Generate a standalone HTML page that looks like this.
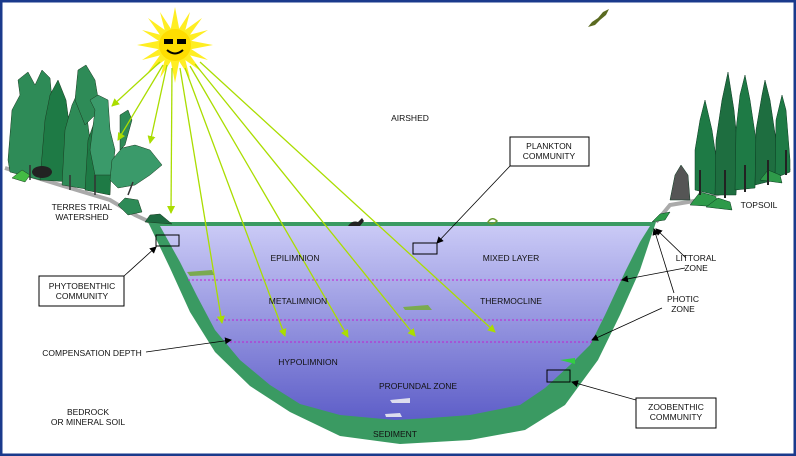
<!DOCTYPE html>
<html><head><meta charset="utf-8"><style>
html,body{margin:0;padding:0;background:#fff}
svg{display:block}
text{font-family:"Liberation Sans",sans-serif;font-size:8.5px;fill:#111}
</style></head><body>
<svg width="796" height="456" viewBox="0 0 796 456" xmlns="http://www.w3.org/2000/svg">
<defs>
<linearGradient id="w" x1="0" y1="0" x2="0" y2="1">
<stop offset="0" stop-color="#cacaf6"/><stop offset="1" stop-color="#5e5ec8"/></linearGradient>
<marker id="ga" markerWidth="8" markerHeight="8" refX="7" refY="4" orient="auto" markerUnits="userSpaceOnUse"><path d="M0,0 L8,4 L0,8 Z" fill="#aadd00"/></marker>
<marker id="ka" markerWidth="7" markerHeight="7" refX="6" refY="3.5" orient="auto" markerUnits="userSpaceOnUse"><path d="M0,0 L7,3.5 L0,7 Z" fill="#000"/></marker>
</defs>
<rect x="0" y="0" width="796" height="456" fill="#fff"/>
<rect x="1" y="1" width="794" height="454" fill="none" stroke="#1a3a8c" stroke-width="3"/>
<!-- ground lines -->
<polyline points="5,168 60,185 110,200 135,215 150,222" fill="none" stroke="#aaa" stroke-width="4"/>
<polyline points="656,222 670,205 700,200 730,190 790,168" fill="none" stroke="#aaa" stroke-width="4"/>
<!-- lake -->
<path d="M148,222 L656,222 L640,270 L620,315 L598,360 L565,405 L525,430 L470,440 L400,444 L340,436 L290,412 L250,386 L215,352 L190,312 L170,268 Z" fill="#3a9a62"/>
<path d="M160,226 L650,226 L640,242 L625,272 L605,315 L590,345 L570,365 L545,388 L520,405 L470,415 L430,418 L395,420 L340,415 L300,404 L270,385 L240,360 L215,330 L197,296 L180,262 Z" fill="url(#w)"/>
<g stroke="#c020d0" stroke-width="1" stroke-dasharray="2,2">
<line x1="188" y1="280" x2="622" y2="280"/><line x1="216" y1="320" x2="602" y2="320"/><line x1="230" y1="342" x2="592" y2="342"/></g>
<!-- trees left -->
<g stroke="#1a3a20" stroke-width="0.5">
<path d="M8,160 L12,110 L20,95 L18,80 L28,72 L35,85 L42,70 L50,78 L52,100 L58,85 L62,110 L65,175 L40,180 L10,172 Z" fill="#2e8b57"/>
<path d="M40,180 L45,120 L50,95 L58,80 L66,100 L70,130 L72,182 Z" fill="#1e7a45"/>
<path d="M62,185 L65,130 L72,105 L78,92 L86,110 L90,140 L92,190 Z" fill="#2e8b57"/>
<path d="M85,190 L88,140 L95,120 L100,100 L106,120 L112,150 L110,195 Z" fill="#1e7a45"/>
<path d="M78,70 L86,65 L95,80 L100,110 L85,125 L75,100 Z" fill="#2e8b57"/>
<path d="M90,150 L95,110 L90,100 L98,95 L108,100 L110,130 L115,150 L112,175 L95,175 Z" fill="#3a9a6a"/>
<path d="M110,180 L112,160 L122,148 L135,145 L150,150 L162,165 L150,175 L135,185 L118,188 Z" fill="#3a9a6a"/>
<path d="M120,150 L125,145 L132,120 L128,110 L120,115 Z" fill="#2e8b57"/>
<path d="M118,205 L125,198 L138,200 L142,212 L128,215 Z" fill="#2e8b57"/>
<path d="M145,222 L150,215 L160,214 L172,224 Z" fill="#1e6a40"/>
<path d="M12,178 L22,170 L30,175 L25,182 Z" fill="#44bb44"/>
</g>
<g stroke="#333" stroke-width="1.5"><line x1="30" y1="180" x2="30" y2="165"/><line x1="70" y1="190" x2="70" y2="175"/><line x1="95" y1="195" x2="95" y2="175"/><line x1="128" y1="195" x2="133" y2="182"/></g>
<ellipse cx="42" cy="172" rx="10" ry="6" fill="#222"/>
<!-- trees right -->
<g stroke="#0a3a20" stroke-width="0.5">
<path d="M695,190 L695,150 L700,120 L705,100 L712,130 L718,170 L716,195 Z" fill="#1e7a45"/>
<path d="M715,195 L716,140 L722,100 L728,72 L734,110 L738,150 L736,195 Z" fill="#1e6e40"/>
<path d="M735,190 L736,130 L740,95 L745,75 L750,100 L756,140 L755,188 Z" fill="#1e7a45"/>
<path d="M755,185 L756,130 L762,95 L765,80 L770,100 L776,140 L775,180 Z" fill="#1e6e40"/>
<path d="M775,178 L776,120 L782,95 L786,110 L790,160 L790,172 Z" fill="#1e7a45"/>
<path d="M670,200 L675,175 L681,165 L688,175 L690,200 Z" fill="#555"/>
<path d="M690,205 L700,192 L715,196 L722,207 Z" fill="#2e9a4a"/>
<path d="M706,207 L718,198 L730,202 L732,210 Z" fill="#2e9a4a"/>
<path d="M760,180 L768,170 L780,175 L782,183 Z" fill="#2e9a4a"/>
<path d="M652,222 L660,214 L670,212 L665,220 Z" fill="#2e9a4a"/>
</g>
<g stroke="#222" stroke-width="2"><line x1="700" y1="195" x2="700" y2="170"/><line x1="725" y1="198" x2="725" y2="170"/><line x1="745" y1="192" x2="745" y2="165"/><line x1="768" y1="185" x2="768" y2="160"/><line x1="786" y1="175" x2="786" y2="150"/></g>
<!-- sun -->
<g transform="translate(175,45)">
<g fill="#ffee22">
<polygon points="0,-38 5,-12 -5,-12"/><polygon points="0,38 5,12 -5,12"/><polygon points="-38,0 -12,5 -12,-5"/><polygon points="38,0 12,5 12,-5"/>
<polygon points="-27,-27 -6,-12 -12,-6"/><polygon points="27,27 6,12 12,6"/><polygon points="27,-27 6,-12 12,-6"/><polygon points="-27,27 -6,12 -12,6"/>
<polygon points="-15,-33 -2,-13 -9,-10"/><polygon points="15,-33 2,-13 9,-10"/><polygon points="-15,33 -2,13 -9,10"/><polygon points="15,33 2,13 9,10"/>
<polygon points="-33,-15 -13,-2 -10,-9"/><polygon points="33,-15 13,-2 10,-9"/><polygon points="-33,15 -13,2 -10,9"/><polygon points="33,15 13,2 10,9"/>
</g>
<circle r="16" fill="#ffdd00"/>
<rect x="-11" y="-6" width="9" height="5" fill="#000"/><rect x="2" y="-6" width="9" height="5" fill="#000"/>
<path d="M-8,5 Q0,12 8,5" stroke="#000" stroke-width="2" fill="none"/>
</g>
<!-- sun rays -->
<g stroke="#aadd00" stroke-width="1.3" marker-end="url(#ga)">
<line x1="160" y1="62" x2="112" y2="106"/><line x1="163" y1="65" x2="118" y2="140"/>
<line x1="167" y1="65" x2="150" y2="143"/><line x1="172" y1="68" x2="171" y2="213"/>
<line x1="180" y1="68" x2="222" y2="323"/><line x1="185" y1="68" x2="285" y2="336"/>
<line x1="190" y1="66" x2="348" y2="337"/><line x1="195" y1="64" x2="415" y2="336"/>
<line x1="200" y1="62" x2="495" y2="332"/>
</g>
<!-- bird, fish -->
<path d="M588,27 L592,22 L598,18 L603,12 L609,9 L606,15 L600,20 L595,25 Z" fill="#5a6a20"/>
<path d="M348,226 Q352,220 358,222 L362,218 L364,221 L360,226 Z" fill="#222"/>
<path d="M488,222 Q492,216 497,221 Q492,226 488,222 Z" fill="none" stroke="#6a9a30" stroke-width="1.5"/>
<path d="M403,307 L428,305 L432,310 L405,310 Z" fill="#7aaa50"/>
<path d="M187,272 L212,270 L214,275 L190,276 Z" fill="#7aaa50"/>
<path d="M390,400 L410,398 L410,403 L392,403 Z" fill="#dde"/>
<path d="M385,414 L400,413 L402,417 L386,417 Z" fill="#dde"/>
<path d="M560,360 L575,358 L575,364 Z" fill="#3c4"/>
<!-- boxes -->
<g fill="none" stroke="#000" stroke-width="1">
<rect x="156" y="235" width="23" height="11"/>
<rect x="413" y="243" width="24" height="11"/>
<rect x="547" y="370" width="23" height="12"/>
<rect x="39" y="276" width="85" height="30" fill="#fff"/>
<rect x="510" y="137" width="79" height="29" fill="#fff"/>
<rect x="636" y="398" width="80" height="30" fill="#fff"/>
</g>
<g stroke="#000" stroke-width="0.8" fill="none" marker-end="url(#ka)">
<line x1="124" y1="276" x2="156" y2="247"/>
<line x1="510" y1="166" x2="437" y2="243"/>
<line x1="636" y1="400" x2="572" y2="382"/>
<line x1="146" y1="352" x2="231" y2="340"/>
<line x1="686" y1="258" x2="656" y2="229"/>
<line x1="685" y1="268" x2="622" y2="280"/>
<line x1="674" y1="293" x2="654" y2="229"/>
<line x1="662" y1="308" x2="592" y2="340"/>
</g>
<!-- labels -->
<text x="82" y="210" text-anchor="middle">TERRES TRIAL</text>
<text x="82" y="220" text-anchor="middle">WATERSHED</text>
<text x="410" y="121" text-anchor="middle">AIRSHED</text>
<text x="549" y="149" text-anchor="middle">PLANKTON</text>
<text x="549" y="159" text-anchor="middle">COMMUNITY</text>
<text x="82" y="289" text-anchor="middle">PHYTOBENTHIC</text>
<text x="82" y="299" text-anchor="middle">COMMUNITY</text>
<text x="295" y="261" text-anchor="middle">EPILIMNION</text>
<text x="511" y="261" text-anchor="middle">MIXED LAYER</text>
<text x="298" y="304" text-anchor="middle">METALIMNION</text>
<text x="511" y="304" text-anchor="middle">THERMOCLINE</text>
<text x="92" y="356" text-anchor="middle">COMPENSATION DEPTH</text>
<text x="308" y="365" text-anchor="middle">HYPOLIMNION</text>
<text x="418" y="389" text-anchor="middle">PROFUNDAL ZONE</text>
<text x="395" y="437" text-anchor="middle">SEDIMENT</text>
<text x="88" y="415" text-anchor="middle">BEDROCK</text>
<text x="88" y="425" text-anchor="middle">OR MINERAL SOIL</text>
<text x="696" y="261" text-anchor="middle">LITTORAL</text>
<text x="696" y="271" text-anchor="middle">ZONE</text>
<text x="683" y="302" text-anchor="middle">PHOTIC</text>
<text x="683" y="312" text-anchor="middle">ZONE</text>
<text x="759" y="208" text-anchor="middle">TOPSOIL</text>
<text x="676" y="410" text-anchor="middle">ZOOBENTHIC</text>
<text x="676" y="420" text-anchor="middle">COMMUNITY</text>
</svg>
</body></html>
